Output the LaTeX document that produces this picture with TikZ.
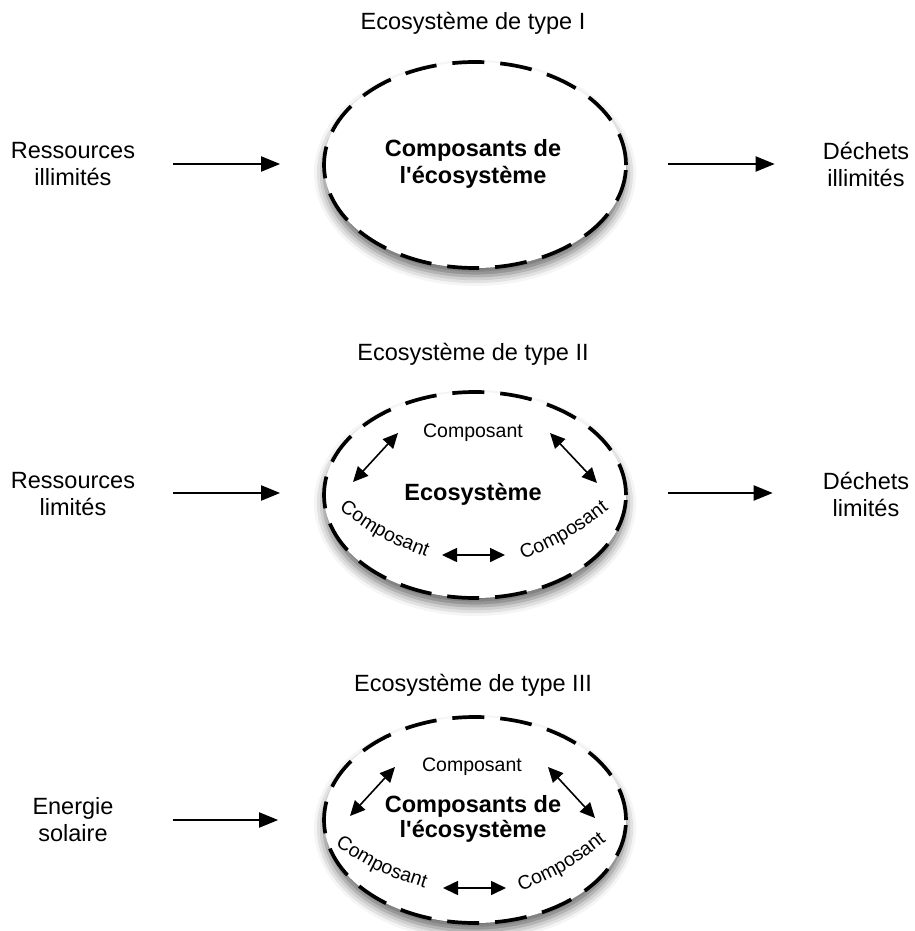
\documentclass[tikz,border=0pt]{standalone}
\usepackage{fontspec}
\setmainfont{Liberation Sans}[Ligatures=TeXOff]
\usetikzlibrary{shapes.geometric,arrows.meta,shadows.blur,decorations.text}
\begin{document}
\begin{tikzpicture}[x=1pt,y=-1pt,
  lbl/.style={font=\fontsize{23.5}{27}\selectfont, align=center, inner sep=0pt},
  bold/.style={font=\bfseries\fontsize{23.5}{27}\selectfont, align=center, inner sep=0pt},
  eco/.style={ellipse, draw, line width=3.7pt, dash pattern=on 32pt off 16pt,
    fill=white, minimum width=302pt, minimum height=206pt, inner sep=0pt,
    blur shadow={shadow xshift=0pt, shadow yshift=-8pt, shadow blur radius=10pt, shadow opacity=60}},
  flow/.style={-{Triangle[length=19pt,width=15pt]}, line width=2pt},
  link/.style={{Triangle[length=15pt,width=14pt]}-{Triangle[length=15pt,width=14pt]}, line width=1.6pt},
  comp/.style={font=\fontsize{19.5}{20}\selectfont, inner sep=0pt},
  curvecomp/.style={decoration={text along path, text align=center,
    text={|\fontsize{19.5}{20}\selectfont|Composant}}, decorate},
]
\useasboundingbox (0,0) rectangle (914,931);

% ---------- Type I ----------
\node[lbl] (t1) at (473,23) {Ecosystème de type I};
\node[eco] (e1) at (475,165) {};
\node[bold] (b1) at (473,164) {Composants de\\l\textquotesingle écosystème};
\node[lbl] (in1) at (73,164) {Ressources\\illimités};
\node[lbl] (out1) at (866,164) {Déchets\\illimités};
\draw[flow] ([xshift=38pt]in1.east) -- ([xshift=-42pt]e1.west |- in1.east);
\draw[flow] ([xshift=40pt]e1.east |- in1.east) -- ([xshift=-48pt]out1.west);

% ---------- Type II ----------
\node[lbl] (t2) at (473,354) {Ecosystème de type II};
\node[eco] (e2) at (475,495) {};
\node[bold] (b2) at (473,494) {Ecosystème};
\node[comp] (c2t) at (473,433) {Composant};
\node[lbl] (in2) at (73,494) {Ressources\\limités};
\node[lbl] (out2) at (866,494) {Déchets\\limités};
\draw[flow] ([xshift=38pt]in2.east |- 0,493) -- ([xshift=-42pt]e2.west |- 0,493);
\draw[flow] ([xshift=40pt]e2.east |- 0,493) -- ([xshift=-50pt]out2.west |- 0,493);
\path[curvecomp] (332,505) .. controls (380,539) .. (434,560);
\path[curvecomp] (514,564) .. controls (569,539.5) .. (617,503);
\coordinate (a2l) at (353,482); \coordinate (a2lt) at (398,433);
\coordinate (a2rt) at (550,433); \coordinate (a2r) at (597,483);
\coordinate (a2bl) at (442,555); \coordinate (a2br) at (505,555);
\draw[link] (a2l) -- (a2lt);
\draw[link] (a2rt) -- (a2r);
\draw[link] (a2bl) -- (a2br);

% ---------- Type III ----------
\node[lbl] (t3) at (473,685) {Ecosystème de type III};
\node[eco] (e3) at (475,820) {};
\node[bold, font=\bfseries\fontsize{23.5}{25.5}\selectfont] (b3) at (473,819) {Composants de\\l\textquotesingle écosystème};
\node[comp] (c3t) at (472,767) {Composant};
\node[lbl] (in3) at (73,820) {Energie\\solaire};
\draw[flow] ([xshift=59pt]in3.east |- 0,820) -- ([xshift=-44pt]e3.west |- 0,820);
\path[curvecomp] (329.5,842) .. controls (377,872.4) .. (431,890);
\path[curvecomp] (514.7,894.3) .. controls (566.8,871.4) .. (611.8,836.5);
\coordinate (a3l) at (350,816); \coordinate (a3lt) at (395,767);
\coordinate (a3rt) at (548,767); \coordinate (a3r) at (595,818);
\coordinate (a3bl) at (443,888); \coordinate (a3br) at (506,888);
\draw[link] (a3l) -- (a3lt);
\draw[link] (a3rt) -- (a3r);
\draw[link] (a3bl) -- (a3br);
\end{tikzpicture}
\end{document}
